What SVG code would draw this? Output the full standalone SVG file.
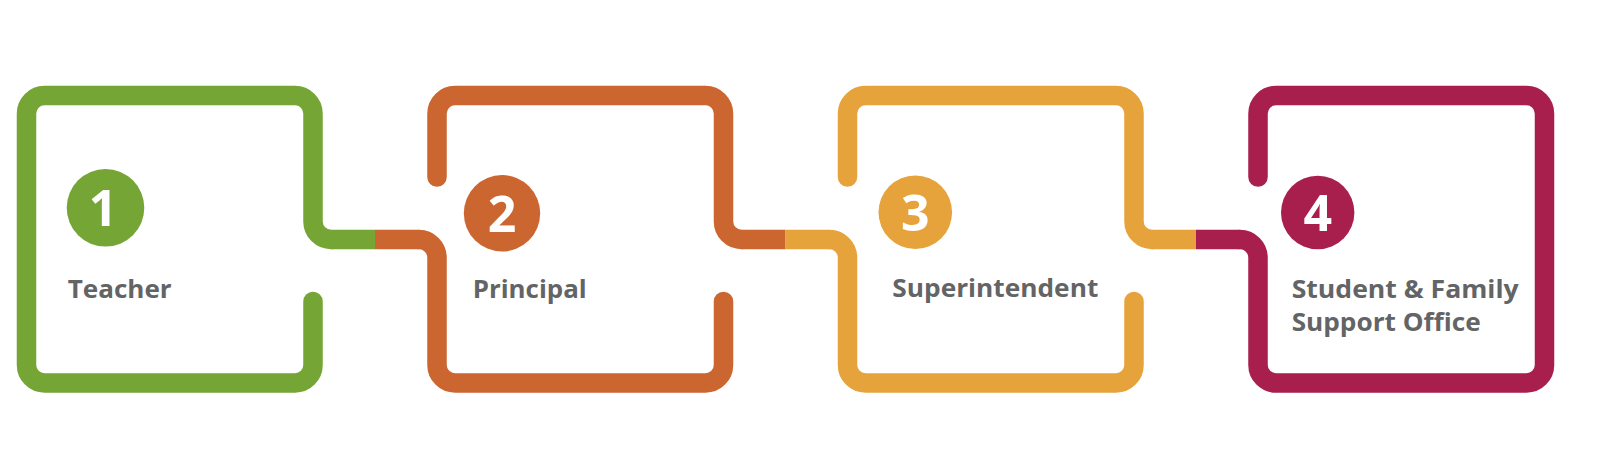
<svg xmlns="http://www.w3.org/2000/svg" width="1600" height="455" viewBox="0 0 1600 455">
<style>
.frame{fill:none;stroke-width:19.5;stroke-linecap:round;stroke-linejoin:round}
.conn{fill:none;stroke-width:19.5;stroke-linecap:butt}
.g{stroke:#74A535}.o{stroke:#CC6630}.y{stroke:#E7A33B}.m{stroke:#A81E4C}
.num{font-family:"Open Sans","Liberation Sans",sans-serif;font-weight:700;font-size:50px;fill:#FFFFFF;text-anchor:middle}
.lbl{font-family:"Open Sans","Liberation Sans",sans-serif;font-weight:700;font-size:25px;fill:#636466}
</style>
<rect width="1600" height="455" fill="#FFFFFF"/>
<g id="connectors">
<path class="conn g" d="M331,239.5 H375.2"/>
<path class="conn o" d="M375,239.5 H419"/>
<path class="conn o" d="M741.5,239.5 H785.5"/>
<path class="conn y" d="M785.3,239.5 H829.5"/>
<path class="conn y" d="M1152,239.5 H1196.2"/>
<path class="conn m" d="M1196,239.5 H1240"/>
</g>
<g id="node1">
<path class="frame g" d="M313,301.5 V365 A18,18 0 0 1 295,383 H44.5 A18,18 0 0 1 26.5,365 V113.5 A18,18 0 0 1 44.5,95.5 H295 A18,18 0 0 1 313,113.5 V221.5 A18,18 0 0 0 331,239.5"/>
<circle cx="105.5" cy="207.8" r="38.8" fill="#74A535"/>
<text class="num" x="103" y="226">1</text>
<text class="lbl" x="67.7" y="297.5" textLength="104" lengthAdjust="spacingAndGlyphs">Teacher</text>
</g>
<g id="node2">
<path class="frame o" d="M419,239.5 A18,18 0 0 1 437,257.5 V365 A18,18 0 0 0 455,383 H705.5 A18,18 0 0 0 723.5,365 V301.5"/>
<path class="frame o" d="M437,177 V113.5 A18,18 0 0 1 455,95.5 H705.5 A18,18 0 0 1 723.5,113.5 V221.5 A18,18 0 0 0 741.5,239.5"/>
<circle cx="502" cy="213.3" r="38.2" fill="#CC6630"/>
<text class="num" x="502" y="231.5">2</text>
<text class="lbl" x="472.7" y="297.7" textLength="114" lengthAdjust="spacingAndGlyphs">Principal</text>
</g>
<g id="node3">
<path class="frame y" d="M829.5,239.5 A18,18 0 0 1 847.5,257.5 V365 A18,18 0 0 0 865.5,383 H1116 A18,18 0 0 0 1134,365 V301.5"/>
<path class="frame y" d="M847.5,177 V113.5 A18,18 0 0 1 865.5,95.5 H1116 A18,18 0 0 1 1134,113.5 V221.5 A18,18 0 0 0 1152,239.5"/>
<circle cx="915.3" cy="212.3" r="36.8" fill="#E7A33B"/>
<text class="num" x="915.3" y="230.5">3</text>
<text class="lbl" x="892.3" y="297.3" textLength="206" lengthAdjust="spacingAndGlyphs">Superintendent</text>
</g>
<g id="node4">
<path class="frame m" d="M1240,239.5 A18,18 0 0 1 1258,257.5 V365 A18,18 0 0 0 1276,383 H1526.5 A18,18 0 0 0 1544.5,365 V113.5 A18,18 0 0 0 1526.5,95.5 H1276 A18,18 0 0 0 1258,113.5 V177"/>
<circle cx="1317.7" cy="212.5" r="36.7" fill="#A81E4C"/>
<text class="num" x="1317.7" y="230.5">4</text>
<text class="lbl" x="1291.7" y="297.7" textLength="227" lengthAdjust="spacingAndGlyphs">Student &amp; Family</text>
<text class="lbl" x="1291.7" y="330.5" textLength="189" lengthAdjust="spacingAndGlyphs">Support Office</text>
</g>
</svg>
